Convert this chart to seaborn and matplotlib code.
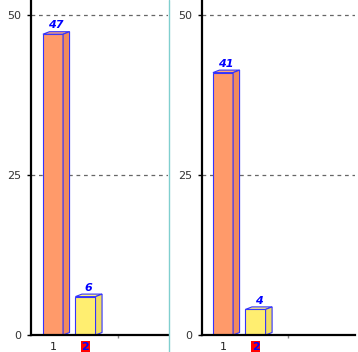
import seaborn as sns
import matplotlib
matplotlib.use("Agg")
import matplotlib.pyplot as plt
import pandas as pd
from matplotlib.patches import Polygon
from matplotlib.lines import Line2D

categories = ['1', '2']
left_values = [47, 6]
right_values = [41, 4]
y_ticks = [0, 25, 50]
bar_colors = ['#FF9A6A', '#FFEE70']
side_colors = ['#F08A5C', '#F2DE60']
top_colors = ['#FFA878', '#FFF280']

sns.set_style("white")
plt.rcParams['font.family'] = ['DejaVu Sans']

W, H = 358, 352
fig = plt.figure(figsize=(W / 100, H / 100), dpi=100)
fig.patch.set_facecolor('white')

panels = [
    (categories, left_values, [31 / W, 17 / H, 137 / W, 335 / H], (-0.677, 3.54)),
    (categories, right_values, [202 / W, 17 / H, 153 / W, 335 / H], (-0.646, 4.06)),
]

px_per_x = 32.5
px_per_y = 6.4
dx = 6.5 / px_per_x
dy = 2.5 / px_per_y

for cats, vals, rect, xl in panels:
    ax = fig.add_axes(rect)
    df = pd.DataFrame({'cat': cats, 'val': vals})
    sns.barplot(data=df, x='cat', y='val', hue='cat', palette=bar_colors,
                saturation=1, width=0.62, edgecolor='#3333FF', linewidth=0.8,
                legend=False, ax=ax, zorder=3)
    for i, p in enumerate(ax.patches):
        x0, w, h = p.get_x(), p.get_width(), p.get_height()
        top = Polygon([(x0, h), (x0 + w, h), (x0 + w + dx, h + dy), (x0 + dx, h + dy)],
                      closed=True, facecolor=top_colors[i], edgecolor='#3333FF',
                      linewidth=0.8, zorder=4)
        side = Polygon([(x0 + w, 0), (x0 + w + dx, dy), (x0 + w + dx, h + dy), (x0 + w, h)],
                       closed=True, facecolor=side_colors[i], edgecolor='#3333FF',
                       linewidth=0.8, zorder=4)
        ax.add_patch(top)
        ax.add_patch(side)
        ax.text(x0 + w / 2 + dx / 2, h + dy + 0.2, f'{vals[i]}', ha='center', va='bottom',
                color='#0000FF', fontweight='bold', fontstyle='italic', fontsize=8, zorder=5)
    ax.set_xlim(*xl)
    ax.set_ylim(0, 335 / px_per_y)
    ax.set_yticks(y_ticks)
    ax.set_yticklabels([str(t) for t in y_ticks])
    ax.yaxis.grid(True, linestyle=(0, (3, 3)), color='#666666', linewidth=0.9, zorder=0)
    ax.xaxis.grid(False)
    ax.set_xlabel('')
    ax.set_ylabel('')
    for s in ['top', 'right']:
        ax.spines[s].set_visible(False)
    for s in ['left', 'bottom']:
        ax.spines[s].set_color('black')
        ax.spines[s].set_linewidth(1.6)
        ax.spines[s].set_zorder(6)
    ax.tick_params(axis='y', left=True, length=3, width=1, color='black',
                   labelsize=8, labelcolor='#333333', pad=4)
    ax.set_xticks([0, 1, 2])
    ax.set_xticklabels(['1', '2', ''])
    ax.tick_params(axis='x', bottom=True, length=2, width=1, color='#888888',
                   labelsize=8, labelcolor='#222222', pad=3)
    ticks = ax.xaxis.get_major_ticks()
    for t in ticks[:2]:
        t.tick1line.set_visible(False)
    lab2 = ax.get_xticklabels()[1]
    lab2.set_color('#0000FF')
    lab2.set_fontweight('bold')
    lab2.set_bbox(dict(facecolor='#FF0000', edgecolor='none', pad=0.6))
    ax.set_facecolor('white')

fig.add_artist(Line2D([168.5 / W, 168.5 / W], [0, 1], color='#80CFCF', linewidth=1.0))

fig.savefig('out.png', dpi=100, facecolor='white')
